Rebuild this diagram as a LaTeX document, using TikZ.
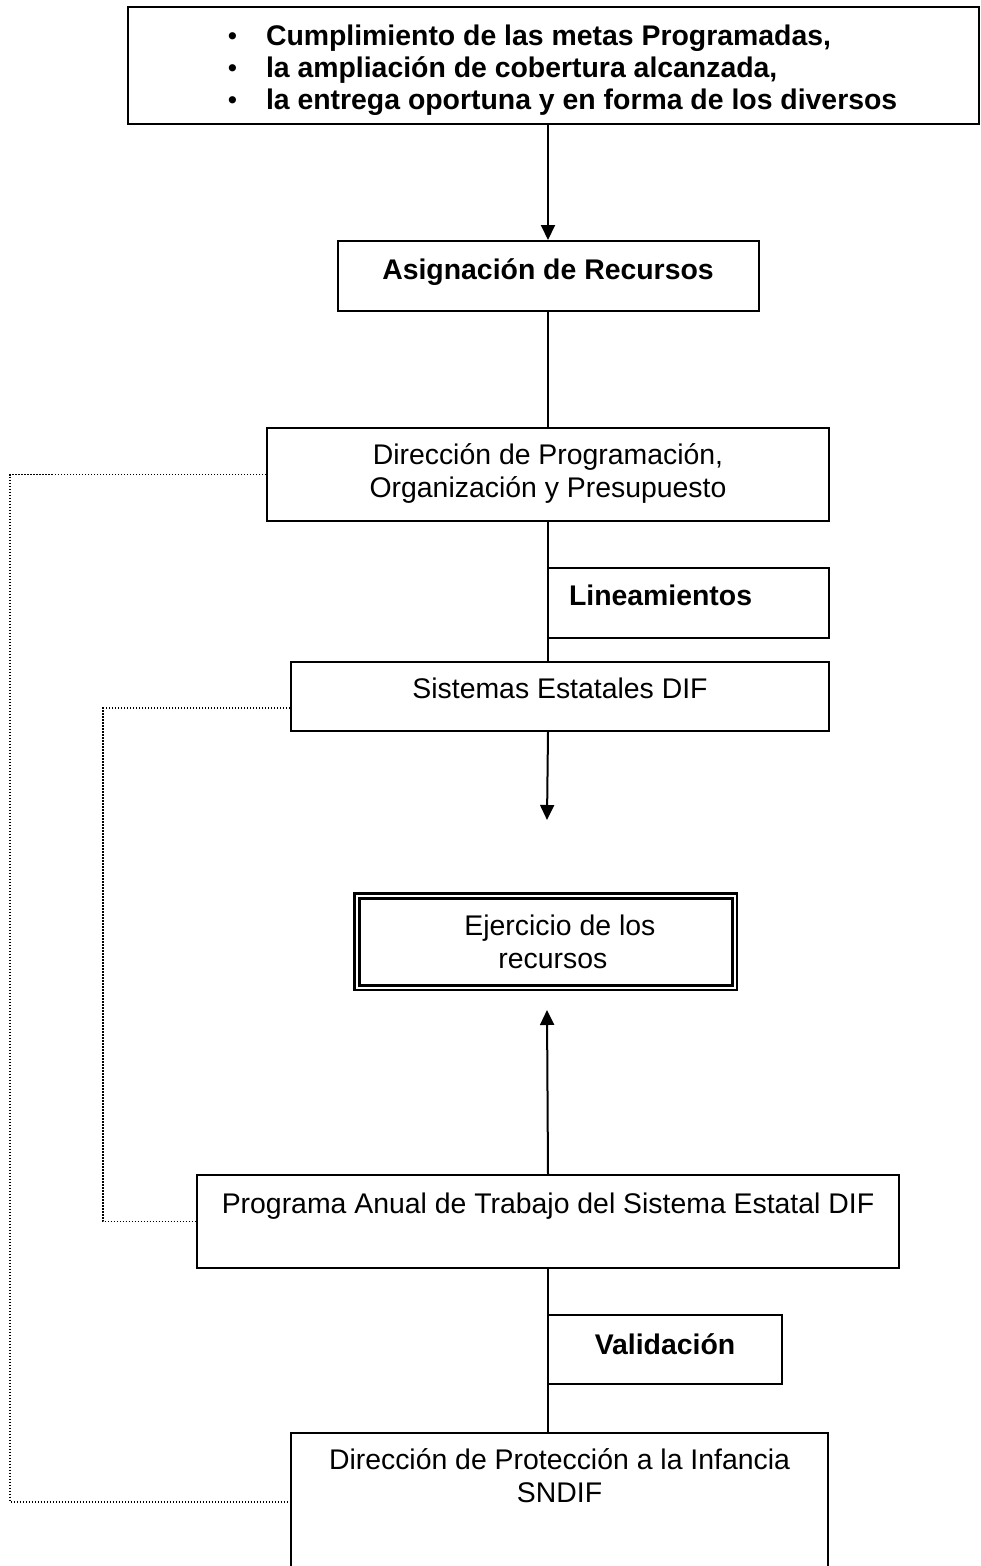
\documentclass[tikz,border=0pt]{standalone}
\usepackage{fontspec}
\setmainfont{Liberation Sans}
\usetikzlibrary{arrows.meta}
\newcommand{\textocaja}[4]{\parbox[c][#2pt][t]{#1pt}{\centering\vspace*{#3pt}\rule{0pt}{25pt}#4}}
\newcommand{\vineta}{\hspace*{100pt}\makebox[38pt][l]{\raisebox{1pt}{\fontsize{25}{25}\selectfont\textbullet}}}

\begin{document}
\begin{tikzpicture}[x=1pt, y=-1pt,
		every node/.style={font=\fontsize{28.4}{33}\selectfont},
		caja/.style={draw, line width=2pt, inner sep=0pt, anchor=north west},
		linea/.style={line width=2pt},
		flecha/.style={line width=2pt, -{Triangle[length=15pt, width=14pt]}},
		punteado/.style={line width=1.5pt, dash pattern=on 1.5pt off 1.5pt}]
			\useasboundingbox (0,0) rectangle (980,1566);
			\node[caja] (metas) at (127,6) {\parbox[c][117pt][t]{851pt}{\fontsize{28.4}{32}\selectfont\bfseries\vspace*{13pt}\rule{0pt}{25pt}%
				\vineta Cumplimiento de las metas Programadas,\\
				\vineta la ampliación de cobertura alcanzada,\\
				\vineta la entrega oportuna y en forma de los diversos}};
			\node[caja] (asig) at (336.5,240) {\textocaja{421}{70}{13}{\textbf{Asignación de Recursos}}};
			\node[caja] (dirprog) at (266,427) {\textocaja{562}{93}{11}{Dirección de Programación,\\Organización y Presupuesto}};
			\node[caja] (linea) at (547,567) {\textocaja{281}{70}{12}{\makebox[239pt][l]{\textbf{Lineamientos}}}};
			\node[caja] (sist) at (290,661) {\textocaja{538}{69}{11}{Sistemas Estatales DIF}};
			\node[caja, double, double distance=2pt, line width=2.8pt] (ejer) at (355.8,894.8) {\textocaja{377.4}{91.4}{14.2}{\hspace*{28pt}Ejercicio de los\\\hspace*{14pt}recursos}};
			\node[caja] (prog) at (196,1174) {\textocaja{702}{93}{13}{Programa Anual de Trabajo del Sistema Estatal DIF}};
			\node[caja] (valid) at (547,1314) {\textocaja{234}{69}{14}{\textbf{Validación}}};
			\node[caja] (prot) at (290,1432) {\textocaja{537}{138}{11}{Dirección de Protección a la Infancia\\SNDIF}};
			\coordinate (llegada1) at (547,820);
			\coordinate (llegada2) at (547,1010);
			\draw[flecha] (asig.north |- metas.south) -- (asig.north);
			\draw[linea] (asig.south) -- (dirprog.north);
			\draw[linea] (dirprog.south) -- (dirprog.south |- sist.north);
			\draw[flecha] (dirprog.south |- sist.south) -- (llegada1);
			\draw[flecha] (prog.north) -- (llegada2);
			\draw[linea] (prog.south) -- (prog.south |- prot.north);
			\draw[punteado] (dirprog.west) -- ++(-256,0) |- (prot.west);
			\draw[punteado] ([yshift=-11.5pt]sist.west) -- ++(-187,0) |- (prog.west);
\end{tikzpicture}
\end{document}
